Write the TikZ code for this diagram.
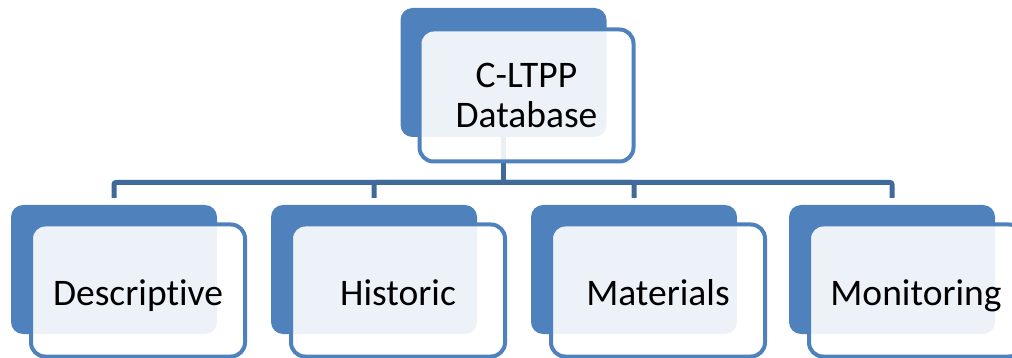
\documentclass[tikz,border=0pt]{standalone}
\usepackage{fontspec}
\setmainfont[Ligatures=NoCommon]{Carlito}
\definecolor{boxblue}{RGB}{ 79, 129, 189}
\definecolor{linkblue}{RGB}{ 64, 106, 154}
\usetikzlibrary{positioning}

\begin{document}
\begin{tikzpicture}[
x=1pt, y=-1pt,
  back/.style = {rectangle, rounded corners=12pt, fill=boxblue,
                 minimum width=206pt, minimum height=129pt, inner sep=0pt},
 front/.style = {rectangle, rounded corners=14pt, draw=boxblue, line width=4pt,
                 fill=white, fill opacity=0.9, text opacity=1,
                 minimum width=214pt, minimum height=132pt, inner sep=0pt,
                 align=center, font=\fontsize{37.5}{40}\selectfont},
  card/.style = {front, text height=30pt, text depth=0pt},
  link/.style = {draw=linkblue, line width=5pt, rounded corners=2pt}
                 ]
\useasboundingbox (0,0) rectangle (1012,358);

% back plates
\node[back] (dbB)   at (503.5,72.5) {};
\node[back] (descB) at (114,269.5) {};
\node[back] (histB) at (374,269.5) {};
\node[back] (matB)  at (634,269.5) {};
\node[back] (monB)  at (892,269.5) {};

% connectors
\coordinate (bus) at (503.5,182.5);
\draw[link] (dbB.south) -- (bus);
\foreach \n in {descB,histB,matB,monB}
  \draw[link, shorten >=7pt] (bus) -| (\n.north);

% front cards
\node[front] (db)   at ([shift={(23,23)}]dbB.center)  {C-LTPP\\Database};
\node[card] (desc) at ([shift={(24,21)}]descB.center) {Descriptive};
\node[card] (hist) at ([shift={(24,21)}]histB.center) {Historic};
\node[card] (mat)  at ([shift={(24,21)}]matB.center)  {Materials};
\node[card] (mon)  at ([shift={(24,21)}]monB.center)  {Monitoring};
\end{tikzpicture}
\end{document}
